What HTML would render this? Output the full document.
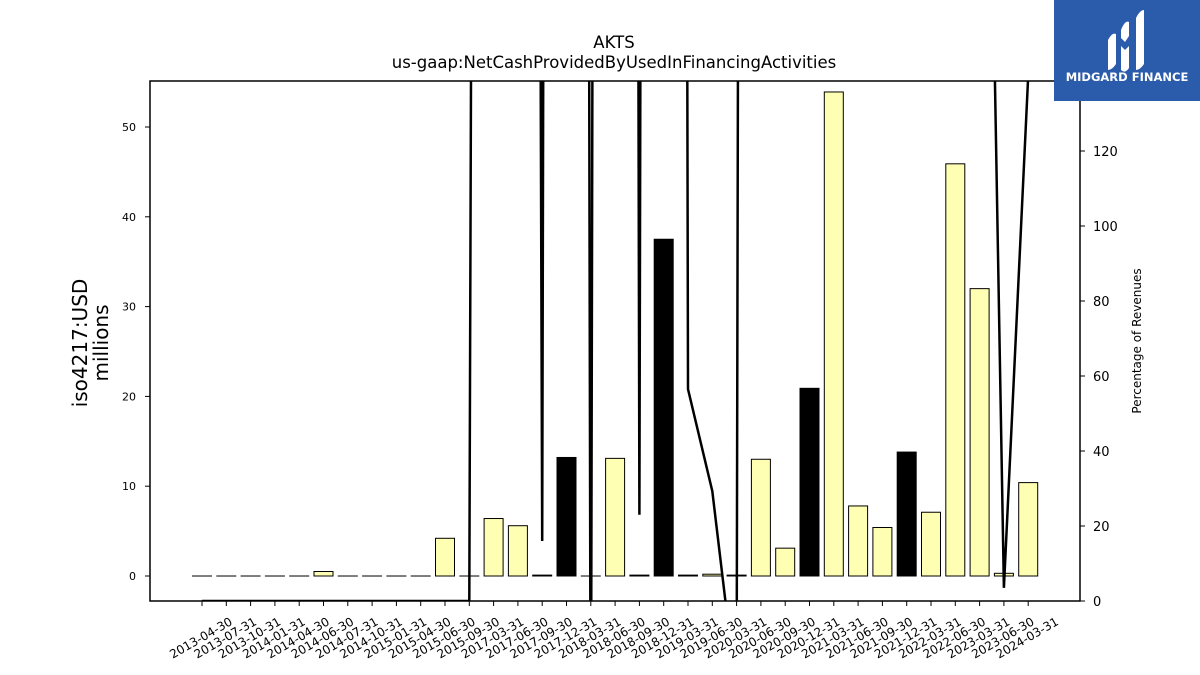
<!DOCTYPE html>
<html><head><meta charset="utf-8"><style>
html,body{margin:0;background:#fff;width:1200px;height:675px;overflow:hidden;}
svg{display:block;font-family:"DejaVu Sans","Liberation Sans",sans-serif;}
</style></head><body>
<svg width="1200" height="675" viewBox="0 0 1200 675">
<defs><clipPath id="pc"><rect x="150" y="81" width="930" height="520"/></clipPath></defs>
<text x="614" y="48" text-anchor="middle" font-size="16.5">AKTS</text>
<text x="614" y="68" text-anchor="middle" font-size="16.5">us-gaap:NetCashProvidedByUsedInFinancingActivities</text>
<g id="bars" clip-path="url(#pc)"></g>
<g id="line" clip-path="url(#pc)"></g>
<rect x="150" y="81" width="930" height="520" fill="none" stroke="#000" stroke-width="1.5"/>
<g id="ly"></g>
<g id="ry"></g>
<g id="xa"></g>
<text transform="translate(87,343) rotate(-90)" text-anchor="middle" font-size="20"><tspan x="0" dy="0">iso4217:USD</tspan><tspan x="0" dy="21">millions</tspan></text>
<text transform="translate(1141,341) rotate(-90)" text-anchor="middle" font-size="12">Percentage of Revenues</text>
<g>
<rect x="1054" y="0" width="146" height="101" fill="#2b5bab"/>
<path d="M1108 40 q4-8 8-6 v30 q-4 6-8 6z M1121 30 q4-10 8-8 v14 l-4 6 -4-4z M1121 46 l4 4 4-4 v22 q-4 6-8 2z M1136 18 q4-8 8-8 v54 q-4 6-8 6z" fill="#fff"/>
<text x="1127" y="81" text-anchor="middle" font-size="11.5" font-weight="bold" fill="#fff">MIDGARD FINANCE</text>
</g>
</svg>
<script>
const categories=["2013-04-30","2013-07-31","2013-10-31","2014-01-31","2014-04-30","2014-06-30","2014-07-31","2014-10-31","2015-01-31","2015-04-30","2015-06-30","2015-09-30","2017-03-31","2017-06-30","2017-09-30","2017-12-31","2018-03-31","2018-06-30","2018-09-30","2018-12-31","2019-03-31","2019-06-30","2020-03-31","2020-06-30","2020-09-30","2020-12-31","2021-03-31","2021-06-30","2021-09-30","2021-12-31","2022-03-31","2022-06-30","2023-03-31","2023-06-30","2024-03-31"];
const values=[0,0,0,0,0,0.5,0,0,0,0,4.2,0,6.4,5.6,-0.1,-13.2,0,13.1,-0.1,-37.5,-0.1,0.2,-0.1,13,3.1,-20.9,53.9,7.8,5.4,-13.8,7.1,45.9,32,0.3,10.4];
const percent=[0,0,0,0,0,0,0,0,0,0,0,0,2000,2000,16,3000,-60,3000,23,3000,56.5,29.3,-25,3000,3000,3000,3000,3000,3000,3000,3000,3000,370,3.5,140];
const leftTicks=[0,10,20,30,40,50];
const rightTicks=[0,20,40,60,80,100,120];
const NS="http://www.w3.org/2000/svg";
const x=i=>202+i*24.3;
const yl=v=>576-v*8.98;
const yr=p=>601-p*3.75;
function mk(t,a,p){const e=document.createElementNS(NS,t);for(const k in a)e.setAttribute(k,a[k]);p.appendChild(e);return e;}
const bars=document.getElementById('bars');
values.forEach((v,i)=>{const a=Math.abs(v);const top=yl(a);
const r=mk('rect',{x:x(i)-9.5,y:top,width:19,height:Math.max(yl(0)-top,0.01),fill:v<0?'#000':'#ffffb4',stroke:'#000','stroke-width':1},bars);

});
const line=document.getElementById('line');
const pl=mk('polyline',{points:percent.map((p,i)=>x(i)+','+yr(p)).join(' '),fill:'none',stroke:'#000','stroke-width':2.5},line);


const ly=document.getElementById('ly');
leftTicks.forEach(t=>{mk('line',{x1:145,x2:150,y1:yl(t),y2:yl(t),stroke:'#000'},ly);
const tx=mk('text',{x:136,y:yl(t)+4,'text-anchor':'end','font-size':11},ly);tx.textContent=t;

});
const ry=document.getElementById('ry');
rightTicks.forEach(t=>{mk('line',{x1:1080,x2:1085,y1:yr(t),y2:yr(t),stroke:'#000'},ry);
const tx=mk('text',{x:1093,y:yr(t)+5,'font-size':13},ry);tx.textContent=t;

});
const xa=document.getElementById('xa');
categories.forEach((c,i)=>{mk('line',{x1:x(i),x2:x(i),y1:601,y2:606,stroke:'#000'},xa);
const tx=mk('text',{transform:'translate('+(x(i)-1)+',638) rotate(-30)','text-anchor':'middle','font-size':12,dy:4},xa);tx.textContent=c;

});
</script>
</body></html>
